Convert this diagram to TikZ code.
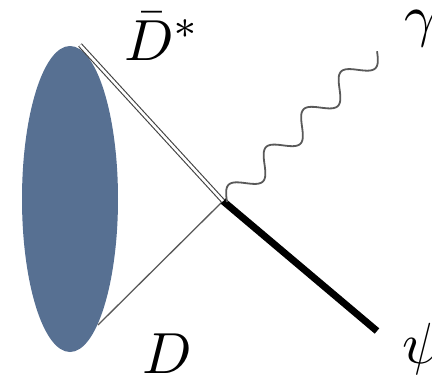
\documentclass[tikz,border=0pt]{standalone}
\definecolor{blobblue}{RGB}{87,112,146}
\begin{document}
\begin{tikzpicture}[x=1pt,y=-1pt,
  lbl/.style={inner sep=0pt,anchor=base west,scale=5.8},
  dstar/.style={draw=black!75,line width=1.1pt,double=white,double distance=2.6pt},
  dline/.style={draw=black!65,line width=1.3pt},
  psiline/.style={draw=black,line width=7pt},
  photon/.style={draw=black!65,line width=1.8pt,line join=round}]
\useasboundingbox (0,0) rectangle (432,381);
\fill[blobblue] (70,199) ellipse [x radius=48, y radius=153];
\coordinate (a) at (80,45);
\coordinate (b) at (98,325);
\coordinate (v) at (223,201);
\coordinate (p) at (377,331);
\draw[dline] (b) -- (v);
\draw[psiline] (v) -- (p);
\draw[dstar] (a) -- (v);
\draw[photon] plot[domain=0:1,samples=240,smooth,variable=\t]
  ({227+150*\t-0.7093*11*sin(1440*\t)},{202-151*\t-0.7046*11*sin(1440*\t)});
\node[lbl] (ldstar) at (123,60) {$\bar D^*$};
\node[lbl] (lgamma) at (403,35) {$\gamma$};
\node[lbl] (ld) at (141,373) {$D$};
\node[lbl] (lpsi) at (401,363) {$\psi$};
\end{tikzpicture}
\end{document}
